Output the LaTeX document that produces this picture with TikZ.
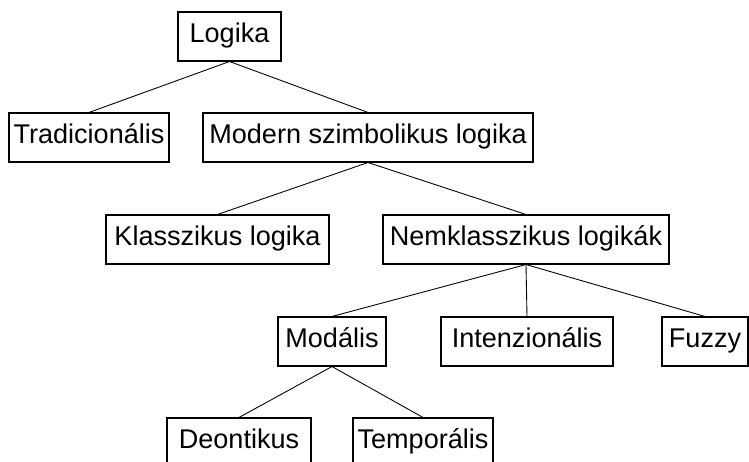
\documentclass[tikz,border=0pt]{standalone}
\usepackage{fontspec}
\setmainfont{Liberation Sans}
\usepackage{tikz}
\usetikzlibrary{positioning}

\begin{document}
\begin{tikzpicture}[
  box/.style={draw, rectangle, line width=0.6pt, minimum height=0.98cm, inner sep=0pt,
    text height=0.72em, text depth=0pt, font=\fontsize{15.4}{18}\selectfont},
  edge/.style={line width=0.5pt}
]
\clip (0,0) rectangle (14.98,9.24);
\useasboundingbox (0,0) rectangle (14.98,9.24);
\node[box, minimum width=2.06cm] (Lo) at (4.59,8.51) {Logika};
\node[box, minimum width=3.2cm] (Tr) at (1.78,6.49) {Tradicionális};
\node[box, minimum width=6.6cm] (Mo) at (7.36,6.49) {Modern szimbolikus logika};
\node[box, minimum width=4.46cm] (Kl) at (4.35,4.45) {Klasszikus logika};
\node[box, minimum width=5.72cm] (Nk) at (10.52,4.45) {Nemklasszikus logikák};
\node[box, minimum width=2.16cm] (Md) at (6.64,2.41) {Modális};
\node[box, minimum width=3.44cm] (In) at (10.54,2.41) {Intenzionális};
\node[box, minimum width=1.72cm] (Fu) at (14.1,2.41) {Fuzzy};
\node[box, minimum width=2.88cm] (De) at (4.78,0.39) {Deontikus};
\node[box, minimum width=2.8cm] (Te) at (8.46,0.39) {Temporális};
\draw[edge] (Lo.south) -- (Tr.north);
\draw[edge] (Lo.south) -- (Mo.north);
\draw[edge] (Mo.south) -- (Kl.north);
\draw[edge] (Mo.south) -- (Nk.north);
\draw[edge] (Nk.south) -- (Md.north);
\draw[edge] (Nk.south) -- (In.north);
\draw[edge] (Nk.south) -- (Fu.north);
\draw[edge] (Md.south) -- (De.north);
\draw[edge] (Md.south) -- (Te.north);
\end{tikzpicture}
\end{document}
